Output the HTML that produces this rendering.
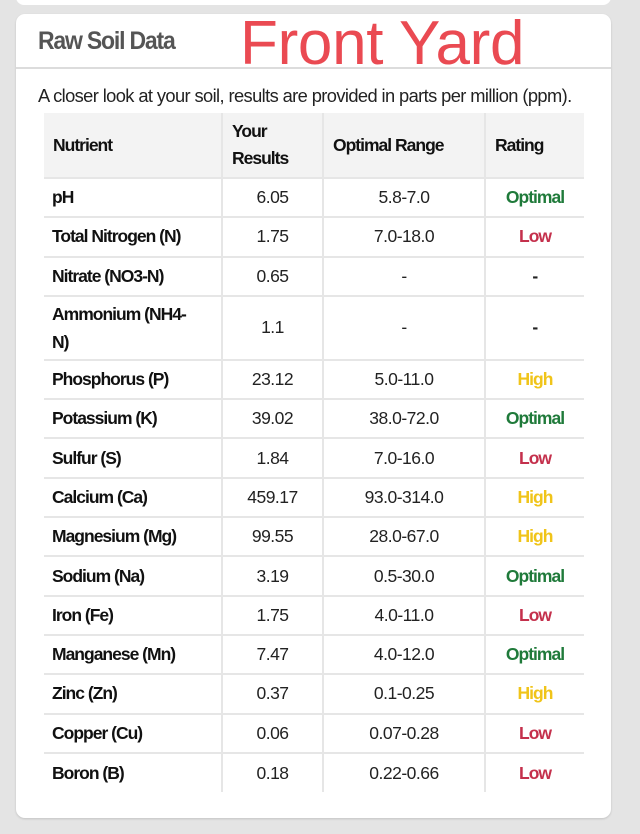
<!DOCTYPE html>
<html><head><meta charset="utf-8"><style>
*{margin:0;padding:0;box-sizing:border-box}
body{width:640px;height:834px;background:#e4e4e4;font-family:"Liberation Sans",sans-serif;position:relative;overflow:hidden}
.top{position:absolute;left:16px;top:-20px;width:595px;height:25px;background:#fff;border-radius:8px}
.card{position:absolute;left:16px;top:14px;width:595px;height:804px;background:#fff;border-radius:9px;box-shadow:0 1px 2px rgba(0,0,0,.15)}
.hd{position:absolute;left:0;top:0;width:595px;height:55px;border-bottom:2px solid #dcdcdc}
.rs{position:absolute;left:22px;top:13px;font-size:25px;color:#555;letter-spacing:-1.3px;font-weight:bold;transform:scaleX(.92);transform-origin:left}
.fy{position:absolute;left:224px;top:-6px;font-size:62px;color:#ea4a52;letter-spacing:-0.3px}
.sub{position:absolute;left:22px;top:71px;font-size:18.3px;color:#222;letter-spacing:-0.6px}
table{position:absolute;left:28px;top:99px;border-collapse:collapse;font-size:17.5px;letter-spacing:-0.5px;color:#222}
td{border-bottom:2px solid #e6e6e6;border-right:2px solid #e6e6e6;height:39.3px;text-align:center;vertical-align:middle}
td:last-child{border-right:none}
td:first-child{text-align:left;padding-left:8px;color:#111;font-weight:bold;letter-spacing:-1px}
tr.h td{background:#f3f3f3;height:65px;color:#111;text-align:left;padding-left:9px;font-weight:bold;letter-spacing:-1px;line-height:27px}
tr:last-child td{border-bottom:none}
.o{color:#1f7a3a;font-weight:bold;letter-spacing:-1px}.l{color:#c4304c;font-weight:bold;letter-spacing:-1px}.g{color:#f0c419;font-weight:bold;letter-spacing:-1px}
.d{font-weight:bold}
</style></head><body>
<div class="top"></div>
<div class="card">
<div class="hd"><div class="rs">Raw Soil Data</div><div class="fy">Front Yard</div></div>
<div class="sub">A closer look at your soil, results are provided in parts per million (ppm).</div>
<table>
<colgroup><col style="width:178px"><col style="width:101px"><col style="width:162px"><col style="width:99px"></colgroup>
<tr class="h"><td>Nutrient</td><td>Your<br>Results</td><td>Optimal Range</td><td>Rating</td></tr>
<tr><td>pH</td><td>6.05</td><td>5.8-7.0</td><td class="o">Optimal</td></tr>
<tr><td>Total Nitrogen (N)</td><td>1.75</td><td>7.0-18.0</td><td class="l">Low</td></tr>
<tr><td>Nitrate (NO3-N)</td><td>0.65</td><td>-</td><td class="d">-</td></tr>
<tr><td style="height:64px;line-height:28px">Ammonium (NH4-<br>N)</td><td>1.1</td><td>-</td><td class="d">-</td></tr>
<tr><td>Phosphorus (P)</td><td>23.12</td><td>5.0-11.0</td><td class="g">High</td></tr>
<tr><td>Potassium (K)</td><td>39.02</td><td>38.0-72.0</td><td class="o">Optimal</td></tr>
<tr><td>Sulfur (S)</td><td>1.84</td><td>7.0-16.0</td><td class="l">Low</td></tr>
<tr><td>Calcium (Ca)</td><td>459.17</td><td>93.0-314.0</td><td class="g">High</td></tr>
<tr><td>Magnesium (Mg)</td><td>99.55</td><td>28.0-67.0</td><td class="g">High</td></tr>
<tr><td>Sodium (Na)</td><td>3.19</td><td>0.5-30.0</td><td class="o">Optimal</td></tr>
<tr><td>Iron (Fe)</td><td>1.75</td><td>4.0-11.0</td><td class="l">Low</td></tr>
<tr><td>Manganese (Mn)</td><td>7.47</td><td>4.0-12.0</td><td class="o">Optimal</td></tr>
<tr><td>Zinc (Zn)</td><td>0.37</td><td>0.1-0.25</td><td class="g">High</td></tr>
<tr><td>Copper (Cu)</td><td>0.06</td><td>0.07-0.28</td><td class="l">Low</td></tr>
<tr><td>Boron (B)</td><td>0.18</td><td>0.22-0.66</td><td class="l">Low</td></tr>
</table>
</div>
</body></html>
